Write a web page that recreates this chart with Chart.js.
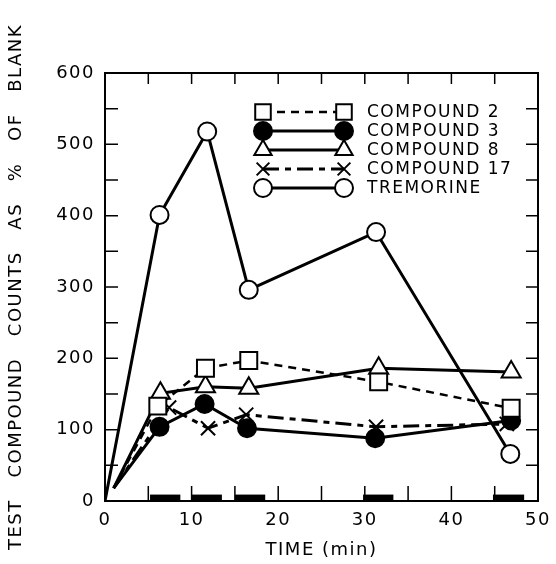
<!DOCTYPE html>
<html>
<head>
<meta charset="utf-8">
<script src="https://cdn.jsdelivr.net/npm/chart.js@4.4.0/dist/chart.umd.min.js"></script>
<style>
html, body { margin: 0; padding: 0; background: #fff; }
#wrap { width: 556px; height: 564px; }
</style>
</head>
<body>
<div id="wrap"><canvas id="chart"></canvas></div>
<script>
// values (time in min, counts in % of blank)
const seriesNames = ['COMPOUND 2', 'COMPOUND 3', 'COMPOUND 8', 'COMPOUND 17', 'TREMORINE'];

const comp2Time = [1, 6.1, 11.6, 16.6, 31.6, 46.9];
const comp2Vals = [18, 133, 186, 197, 167, 130];

const comp3Time = [1, 6.3, 11.5, 16.4, 31.2, 46.9];
const comp3Vals = [18, 104, 136, 102, 88, 113];

const comp8Time = [1, 6.4, 11.6, 16.6, 31.6, 46.9];
const comp8Vals = [18, 151, 160, 158, 186, 181];

const comp17Time = [1, 7.4, 11.9, 16.3, 31.3, 46.4];
const comp17Vals = [18, 131, 102, 121, 104, 108];

const tremTime = [0, 6.3, 11.8, 16.6, 31.3, 46.8];
const tremVals = [0, 401, 518, 296, 377, 66];

// black bars along the time axis (start, end in min)
const barRanges = [[5.2, 8.7], [10, 13.5], [15, 18.5], [29.8, 33.3], [44.8, 48.4]];
const barHeight = 9;

// tick marks (inside the frame, all four sides)
const xTickMarks = [5, 10, 15, 20, 25, 30, 35, 40, 45];
const yTickMarks = [50, 100, 150, 200, 250, 300, 350, 400, 450, 500, 550];

const FONT = 'DejaVu Sans';

function pts(xs, ys) {
    return xs.map((x, i) => ({ x: x, y: ys[i] }));
}

function radii(n, r) {
    const a = new Array(n).fill(r);
    a[0] = 0; // no marker on the starting point
    return a;
}

// letter spacing like the stencil lettering
const spacing = {
    id: 'spacing',
    beforeUpdate(chart) { chart.ctx.letterSpacing = '1.5px'; },
    beforeDraw(chart) { chart.ctx.letterSpacing = '1.5px'; }
};

// frame, inward ticks and the black bars
const frameTicks = {
    id: 'frameTicks',
    beforeDatasetsDraw(chart) {
        const { ctx, chartArea: a, scales: { x, y } } = chart;
        ctx.save();
        ctx.strokeStyle = '#000';
        ctx.lineWidth = 2;
        ctx.strokeRect(a.left, a.top, a.right - a.left, a.bottom - a.top);
        ctx.lineWidth = 1.5;
        ctx.beginPath();
        xTickMarks.forEach(t => {
            const px = x.getPixelForValue(t);
            ctx.moveTo(px, a.bottom); ctx.lineTo(px, a.bottom - 15);
            ctx.moveTo(px, a.top); ctx.lineTo(px, a.top + 11);
        });
        yTickMarks.forEach(v => {
            const py = y.getPixelForValue(v);
            ctx.moveTo(a.left, py); ctx.lineTo(a.left + 13, py);
            ctx.moveTo(a.right, py); ctx.lineTo(a.right - 12, py);
        });
        ctx.stroke();
        ctx.fillStyle = '#000';
        barRanges.forEach(r => {
            const x0 = x.getPixelForValue(r[0]);
            const x1 = x.getPixelForValue(r[1]);
            const y1 = y.getPixelForValue(barHeight);
            ctx.fillRect(x0, y1, x1 - x0, a.bottom - y1);
        });
        ctx.restore();
    }
};

// legend drawn inside the plot: line sample with a marker at each end
const lineLegend = {
    id: 'lineLegend',
    afterDatasetsDraw(chart) {
        const { ctx, chartArea: a } = chart;
        const lx0 = a.left + 158, lx1 = a.left + 239, tx = a.left + 262;
        ctx.save();
        chart.data.datasets.forEach((ds, i) => {
            const ry = a.top + 39 + i * 19;
            ctx.strokeStyle = '#000';
            ctx.lineWidth = ds.borderWidth;
            ctx.setLineDash(ds.borderDash || []);
            ctx.beginPath();
            ctx.moveTo(lx0, ry); ctx.lineTo(lx1, ry);
            ctx.stroke();
            ctx.setLineDash([]);
            const opts = { pointStyle: ds.pointStyle, radius: ds.legendRadius, borderWidth: ds.pointBorderWidth, rotation: 0 };
            [lx0, lx1].forEach(px => {
                ctx.fillStyle = ds.pointBackgroundColor;
                ctx.strokeStyle = '#000';
                ctx.lineWidth = ds.pointBorderWidth;
                Chart.helpers.drawPoint(ctx, opts, px, ry);
            });
            ctx.fillStyle = '#000';
            ctx.font = '17px "' + FONT + '"';
            ctx.textBaseline = 'middle';
            ctx.textAlign = 'left';
            ctx.fillText(ds.label, tx, ry + 1);
        });
        ctx.restore();
    }
};

const ctx = document.getElementById('chart').getContext('2d');

const chart = new Chart(ctx, {
    type: 'line',
    data: {
        datasets: [
            {
                label: seriesNames[0],
                data: pts(comp2Time, comp2Vals),
                borderColor: '#000', borderWidth: 2.5, borderDash: [8, 6],
                pointStyle: 'rect', pointRadius: radii(comp2Time.length, 12), legendRadius: 11,
                pointBackgroundColor: '#fff', pointBorderColor: '#000', pointBorderWidth: 2
            },
            {
                label: seriesNames[1],
                data: pts(comp3Time, comp3Vals),
                borderColor: '#000', borderWidth: 3,
                pointStyle: 'circle', pointRadius: radii(comp3Time.length, 9), legendRadius: 9,
                pointBackgroundColor: '#000', pointBorderColor: '#000', pointBorderWidth: 2
            },
            {
                label: seriesNames[2],
                data: pts(comp8Time, comp8Vals),
                borderColor: '#000', borderWidth: 3,
                pointStyle: 'triangle', pointRadius: radii(comp8Time.length, 11), legendRadius: 10,
                pointBackgroundColor: '#fff', pointBorderColor: '#000', pointBorderWidth: 2
            },
            {
                label: seriesNames[3],
                data: pts(comp17Time, comp17Vals),
                borderColor: '#000', borderWidth: 3, borderDash: [16, 6, 6, 6],
                pointStyle: 'crossRot', pointRadius: radii(comp17Time.length, 10), legendRadius: 9,
                pointBackgroundColor: '#fff', pointBorderColor: '#000', pointBorderWidth: 2
            },
            {
                label: seriesNames[4],
                data: pts(tremTime, tremVals),
                borderColor: '#000', borderWidth: 3,
                pointStyle: 'circle', pointRadius: radii(tremTime.length, 9), legendRadius: 9,
                pointBackgroundColor: '#fff', pointBorderColor: '#000', pointBorderWidth: 2
            }
        ]
    },
    options: {
        responsive: true,
        maintainAspectRatio: false,
        animation: false,
        layout: { padding: { top: 73, right: 18, left: 0, bottom: 0 } },
        plugins: {
            legend: { display: false },
            tooltip: { enabled: false }
        },
        elements: { line: { tension: 0 } },
        scales: {
            x: {
                type: 'linear',
                min: 0, max: 50,
                grid: { display: false },
                border: { display: false },
                ticks: { stepSize: 10, color: '#000', font: { family: FONT, size: 18 }, padding: 1, maxRotation: 0 },
                title: { display: true, text: 'TIME (min)', color: '#000', font: { family: FONT, size: 18 }, padding: { top: 0, bottom: 3 } },
                afterFit(scale) { scale.height = 63; }
            },
            y: {
                min: 0, max: 600,
                grid: { display: false },
                border: { display: false },
                ticks: { stepSize: 100, color: '#000', font: { family: FONT, size: 18 }, padding: 2 },
                title: { display: true, text: 'TEST   COMPOUND   COUNTS   AS   %   OF   BLANK', color: '#000', font: { family: FONT, size: 18 }, padding: { top: 6, bottom: 0 } },
                afterFit(scale) { scale.width = 105; }
            }
        }
    },
    plugins: [spacing, frameTicks, lineLegend]
});
</script>
</body>
</html>
